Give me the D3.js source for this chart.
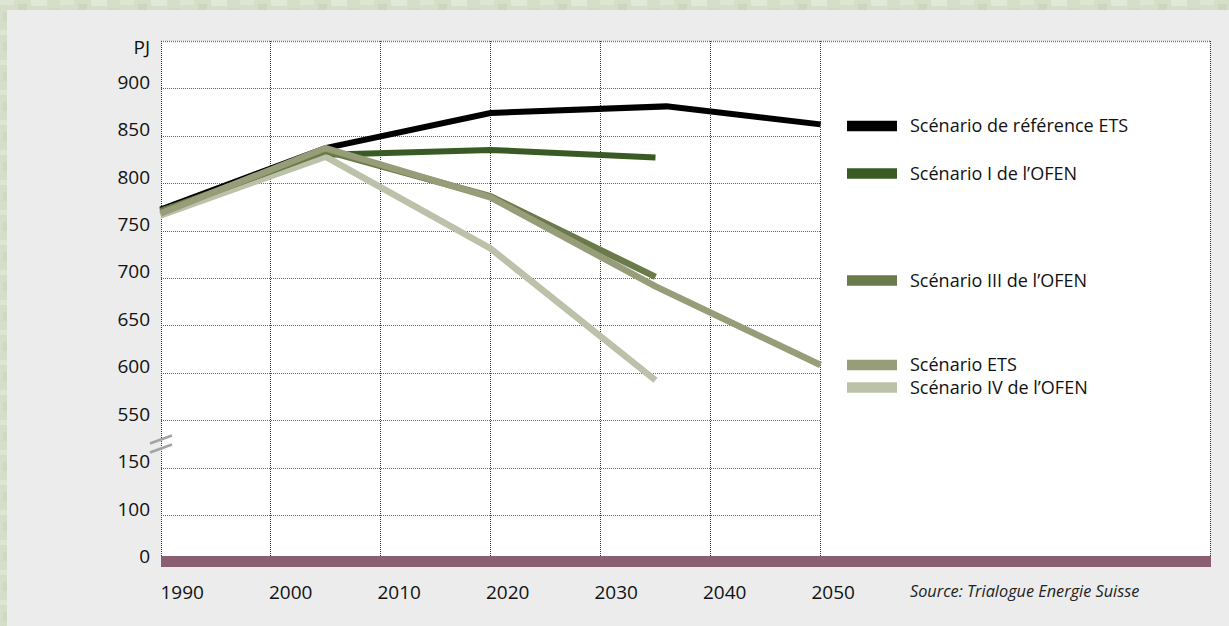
<!DOCTYPE html>
<html>
<head>
<meta charset="utf-8">
<script src="https://cdn.jsdelivr.net/npm/d3@7"></script>
<style>
    body { margin: 0; background: #d6dfca; }
    svg { display: block; }
    .tick-label { font-family: "Open Sans", "DejaVu Sans", sans-serif; font-size: 19px; fill: #111; }
    .legend-text { font-family: "Open Sans", "DejaVu Sans", sans-serif; font-size: 18px; fill: #111; }
    .source { font-family: "Open Sans", "DejaVu Sans", sans-serif; font-size: 16.3px; font-style: italic; fill: #222; }
</style>
</head>
<body>
<div id="chartdiv"></div>
<script>
    // --- data ---
    const years = [1990, 2005, 2020, 2035];
    const refYears = [1990, 2005, 2020, 2036, 2050];
    const etsYears = [1990, 2005, 2020, 2035, 2050];

    const refETS = [772, 837, 874, 881, 862];        // Scénario de référence ETS
    const ofen1 = [771, 830, 835, 827];              // Scénario I de l'OFEN
    const ofen3 = [770, 834, 786, 701];              // Scénario III de l'OFEN
    const scenETS = [768, 837, 785, 691, 608];       // Scénario ETS
    const ofen4 = [766, 828, 731, 592];              // Scénario IV de l'OFEN

    const yTicks = [0, 100, 150, 550, 600, 650, 700, 750, 800, 850, 900];
    const xTicks = [1990, 2000, 2010, 2020, 2030, 2040, 2050];

    const legendNames = ["Scénario de référence ETS", "Scénario I de l\u2019OFEN", "Scénario III de l\u2019OFEN", "Scénario ETS", "Scénario IV de l\u2019OFEN"];
    const colors = ["#000000", "#3a5a24", "#6b7a4a", "#979d78", "#bcc2aa"];
    const legendY = [126, 173.5, 280.5, 365, 387.5];

    const W = 1229, H = 626;
    const plot = {left: 161, right: 1210, top: 41, bottom: 556, gridRight: 820.5};

    const svg = d3.select("#chartdiv").append("svg").attr("width", W).attr("height", H);

    // mottled green border (fixed pattern)
    const defs = svg.append("defs");
    const pat = defs.append("pattern").attr("id", "tex").attr("width", 60).attr("height", 30)
        .attr("patternUnits", "userSpaceOnUse");
    pat.append("rect").attr("width", 60).attr("height", 30).attr("fill", "#d5dec8");
    [[0, 0, 14, 5, "#dde5d3"], [18, 4, 9, 8, "#ccd6be"], [31, 0, 16, 6, "#e2e8d9"], [48, 8, 12, 10, "#d0dac3"],
     [3, 12, 10, 9, "#cfd9c2"], [22, 16, 14, 6, "#dbe3d0"], [40, 20, 8, 10, "#c8d3ba"], [8, 23, 12, 7, "#e0e7d6"]]
        .forEach(r => pat.append("rect").attr("x", r[0]).attr("y", r[1]).attr("width", r[2]).attr("height", r[3]).attr("fill", r[4]));
    svg.append("rect").attr("width", W).attr("height", H).attr("fill", "url(#tex)");
    svg.append("rect").attr("x", 7).attr("y", 10).attr("width", W - 7).attr("height", H - 10).attr("fill", "#ebeceb");

    // scales
    const x = d3.scaleLinear().domain([1990, 2050]).range([160.5, 820.5]);
    const xLabel = d3.scaleLinear().domain([1990, 2050]).range([160, 811]);
    // broken axis: 0-100-150 and then 550 upwards
    const y = d3.scaleLinear().domain([0, 100, 150, 550, 950]).range([562, 515, 467.7, 420, 41]);

    svg.append("rect").attr("x", plot.left).attr("y", plot.top)
        .attr("width", plot.right - plot.left).attr("height", plot.bottom - plot.top).attr("fill", "#fff");

    // horizontal grid
    svg.append("g").selectAll("line").data(yTicks.filter(d => d > 0)).join("line")
        .attr("x1", plot.left).attr("x2", plot.gridRight)
        .attr("y1", d => Math.round(y(d)) + 0.5).attr("y2", d => Math.round(y(d)) + 0.5)
        .attr("stroke", "#666").attr("stroke-dasharray", "1,1");

    // vertical grid
    svg.append("g").selectAll("line").data(xTicks.slice(1)).join("line")
        .attr("x1", d => x(d)).attr("x2", d => x(d))
        .attr("y1", plot.top).attr("y2", plot.bottom)
        .attr("stroke", "#333").attr("stroke-dasharray", "1,1");

    // frame
    svg.append("line").attr("x1", plot.left).attr("x2", plot.right).attr("y1", plot.top + 0.5).attr("y2", plot.top + 0.5)
        .attr("stroke", "#777").attr("stroke-width", 1.5).attr("stroke-dasharray", "1,1");
    svg.append("line").attr("x1", plot.left + 0.5).attr("x2", plot.left + 0.5).attr("y1", plot.top).attr("y2", plot.bottom)
        .attr("stroke", "#333").attr("stroke-dasharray", "1,1");
    svg.append("line").attr("x1", plot.right + 0.5).attr("x2", plot.right + 0.5).attr("y1", plot.top).attr("y2", plot.bottom + 8)
        .attr("stroke", "#333").attr("stroke-dasharray", "1,1");

    // base bar at 0
    svg.append("rect").attr("x", plot.left).attr("y", plot.bottom)
        .attr("width", plot.right - plot.left + 1).attr("height", 11).attr("fill", "#8b5f72");

    // lines
    const line = d3.line().x(d => x(d[0])).y(d => y(d[1]));
    const series = [
        {yrs: refYears, vals: refETS, c: colors[0], w: 6},
        {yrs: years, vals: ofen1, c: colors[1], w: 6},
        {yrs: years, vals: ofen4, c: colors[4], w: 6.5},
        {yrs: years, vals: ofen3, c: colors[2], w: 6.5},
        {yrs: etsYears, vals: scenETS, c: colors[3], w: 6.5}
    ];
    svg.append("g").selectAll("path").data(series).join("path")
        .attr("d", s => line(s.yrs.map((yr, i) => [yr, s.vals[i]])))
        .attr("fill", "none").attr("stroke", s => s.c).attr("stroke-width", s => s.w)
        .attr("stroke-linejoin", "miter").attr("stroke-linecap", "butt");

    // y axis labels
    const yAxis = svg.append("g").attr("transform", `translate(${plot.left},0)`)
        .call(d3.axisLeft(y).tickValues(yTicks).tickSize(0).tickPadding(11).tickFormat(d3.format("d")));
    yAxis.select(".domain").remove();
    yAxis.selectAll("text").attr("class", "tick-label").attr("dy", 0).attr("font-size", null).attr("font-family", null);
    svg.append("text").attr("class", "tick-label").attr("x", 150).attr("y", 54).attr("text-anchor", "end").text("PJ");

    // axis break marks
    svg.append("g").selectAll("line").data([0, 9]).join("line")
        .attr("x1", 150).attr("x2", 172).attr("y1", d => 443.5 + d).attr("y2", d => 435.5 + d)
        .attr("stroke", "#a3a3a3").attr("stroke-width", 2.5);

    // x axis labels
    const xAxis = svg.append("g").attr("transform", "translate(0,599)")
        .call(d3.axisBottom(xLabel).tickValues(xTicks).tickSize(0).tickFormat(d3.format("d")));
    xAxis.select(".domain").remove();
    xAxis.selectAll("text").attr("class", "tick-label").attr("y", 0).attr("dy", 0)
        .attr("text-anchor", "start").attr("font-size", null).attr("font-family", null);

    // legend
    const lg = svg.append("g").selectAll("g").data(legendNames).join("g")
        .attr("transform", (d, i) => `translate(847,${legendY[i]})`);
    lg.append("rect").attr("x", 0).attr("y", -5.25).attr("width", 50).attr("height", 10.5)
        .attr("fill", (d, i) => colors[i]);
    lg.append("text").attr("class", "legend-text").attr("x", 63).attr("y", 6).text(d => d);

    svg.append("text").attr("class", "source").attr("x", 910).attr("y", 597).text("Source: Trialogue Energie Suisse");
</script>
</body>
</html>
